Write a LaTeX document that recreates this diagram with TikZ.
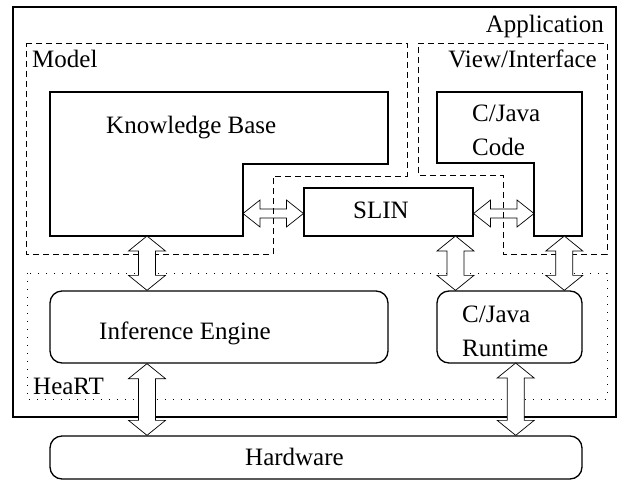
\documentclass[tikz,border=0pt]{standalone}
\usepackage{fontspec}
\setmainfont{Liberation Serif}
\usetikzlibrary{calc}
\begin{document}
\begin{tikzpicture}[x=1pt, y=-1pt,
  font=\fontsize{25}{34}\selectfont,
  txt/.style={inner sep=0pt, anchor=base west},
  appbx/.style={draw, line width=1.2pt},
  grp/.style={draw, line width=0.8pt, dash pattern=on 6pt off 4pt},
  layer/.style={draw, line width=0.8pt, dash pattern=on 1.2pt off 6.8pt},
  thk/.style={draw, line width=1.6pt, line join=miter},
  bx/.style={draw, line width=1.1pt, inner sep=0pt},
  rbx/.style={draw, line width=1.3pt, rounded corners=12pt, inner sep=0pt},
  vdbl/.style={draw, fill=white, line width=0.7pt, to path={(\tikztostart)
    -- ($(\tikztostart)+(18.5,15)$) -- ($(\tikztostart)+(8.5,15)$)
    -- ($(\tikztotarget)+(8.5,-15)$) -- ($(\tikztotarget)+(18.5,-15)$)
    -- (\tikztotarget) -- ($(\tikztotarget)+(-18.5,-15)$) -- ($(\tikztotarget)+(-8.5,-15)$)
    -- ($(\tikztostart)+(-8.5,15)$) -- ($(\tikztostart)+(-18.5,15)$) -- cycle}},
  hdbl/.style={draw, line width=0.7pt, to path={(\tikztostart)
    -- ($(\tikztostart)+(17,-13.5)$) -- ($(\tikztostart)+(17,-4.5)$)
    -- ($(\tikztotarget)+(-17,-4.5)$) -- ($(\tikztotarget)+(-17,-13.5)$)
    -- (\tikztotarget) -- ($(\tikztotarget)+(-17,13.5)$) -- ($(\tikztotarget)+(-17,4.5)$)
    -- ($(\tikztostart)+(17,4.5)$) -- ($(\tikztostart)+(17,13.5)$) -- cycle}}]
  \useasboundingbox (0,0) rectangle (618,482);
  % outer frame and groups
  \draw[appbx] (13,7) rectangle (616,417);
  \draw[grp] (26,43) -- (407,43) -- (407,176) -- (273,176) -- (273,254) -- (26,254) -- cycle;
  \draw[grp] (418,43) -- (607,43) -- (607,254) -- (503,254) -- (503,175) -- (418,175) -- cycle;
  \draw[layer] (27,273) rectangle (607,399);
  \node[txt, anchor=base east] (app) at (604,32) {Application};
  \node[txt] (model) at (32,67) {Model};
  \node[txt, anchor=base east] (view) at (597,67) {View/Interface};
  \node[txt] (heart) at (33,394) {HeaRT};
  % L-shaped blocks
  \draw[thk] (50,92) -- (388,92) -- (388,164) -- (243,164) -- (243,236) -- (50,236) -- cycle;
  \draw[thk] (437,92) -- (582,92) -- (582,236) -- (534,236) -- (534,163) -- (437,163) -- cycle;
  \node[txt] (kbt) at (106,133) {Knowledge Base};
  \node[txt, align=left] (codet) at (472,155) {C/Java\\Code};
  \coordinate (kbs) at (147,236);
  \coordinate (kbe) at (243,213.5);
  \coordinate (codes) at (564.3,236);
  \coordinate (codew) at (534,213.5);
  % boxes
  \node[bx, minimum width=169pt, minimum height=48pt] (slin) at (388.5,212) {};
  \node[rbx, minimum width=338pt, minimum height=72pt] (ie) at (219,327) {};
  \node[rbx, minimum width=145pt, minimum height=72pt] (rt) at (509.5,327) {};
  \node[rbx, minimum width=532pt, minimum height=43pt] (hw) at (316,457.5) {};
  \node[txt] (slint) at (353,218) {SLIN};
  \node[txt] (iet) at (99,339) {Inference Engine};
  \node[txt, align=left] (rtt) at (462,356) {C/Java\\Runtime};
  \node[txt] (hwt) at (245,465) {Hardware};
  \coordinate (slins) at (455.5,236);
  \coordinate (rts) at (515.7,363);
  % double arrows
  \draw[vdbl] (kbs) to (ie.north -| kbs);
  \draw[vdbl] (ie.south -| kbs) to (hw.north -| kbs);
  \draw[vdbl] (slins) to (rt.north -| slins);
  \draw[vdbl] (codes) to (rt.north -| codes);
  \draw[vdbl] (rts) to (hw.north -| rts);
  \draw[hdbl] (kbe) to (kbe -| slin.west);
  \draw[hdbl] (kbe -| slin.east) to (codew);
\end{tikzpicture}
\end{document}
